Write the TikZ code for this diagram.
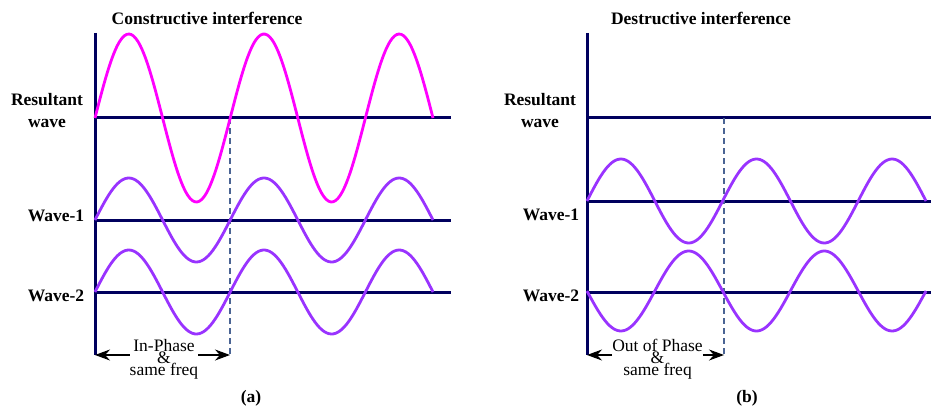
\documentclass[tikz,border=0pt]{standalone}
\usepackage{fontspec}
\setmainfont{Liberation Serif}
\usetikzlibrary{arrows.meta}
\definecolor{axisblue}{HTML}{00005E}
\definecolor{resmag}{HTML}{FF00FF}
\definecolor{wavepurple}{HTML}{9933FF}
\definecolor{guidegray}{HTML}{4A6494}
\setlength{\lineskiplimit}{-20pt}

\begin{document}
\begin{tikzpicture}[x=1pt, y=-1pt, every node/.style={inner sep=0pt},
  axis/.style={draw=axisblue, line width=3pt},
  res/.style={draw=resmag, line width=2.8pt},
  wv/.style={draw=wavepurple, line width=2.8pt},
  guide/.style={draw=guidegray, line width=1.1pt, dash pattern=on 6pt off 4pt},
  lbl/.style={font=\fontsize{17.5}{22}\selectfont\bfseries, align=center},
  note/.style={align=center, font=\fontsize{17.5}{12}\selectfont},
  arr/.style={-{Stealth[length=15pt, width=11pt]}, line width=1.2pt}]
\useasboundingbox (0,0) rectangle (931,409);
% (a) constructive
\coordinate (oa) at (95,33);
\coordinate (la) at (95,355);
\coordinate (ra) at (230,355);
\draw[axis] (oa) -- (la);
\draw[axis] (95,118) -- (451,118);
\draw[axis] (95,220) -- (451,220);
\draw[axis] (95,292) -- (451,292);
\draw[guide] (230,118) -- (ra);
\draw[res] plot[domain=0:338, samples=150, smooth] ({95+\x}, {118-84*sin(\x/135.2*360)});
\draw[wv] plot[domain=0:338, samples=150, smooth] ({95+\x}, {220-42*sin(\x/135.2*360)});
\draw[wv] plot[domain=0:338, samples=150, smooth] ({95+\x}, {292-42*sin(\x/135.2*360)});
\node[lbl] (tta) at (207,18.5) {Constructive interference};
\node[lbl] (resa) at (47,111) {Resultant\\wave};
\node[lbl] (w1a) at (56,216) {Wave-1};
\node[lbl] (w2a) at (56,296) {Wave-2};
\node[note] (nta) at (164,359) {In-Phase\\\&\\same freq};
\draw[arr] (nta.west |- la) -- (la);
\draw[arr] (nta.east |- ra) -- (ra);
\node[lbl] (capa) at (251,398) {(a)};
% (b) destructive
\coordinate (ob) at (587,33);
\coordinate (lb) at (587,355);
\coordinate (rb) at (724,355);
\draw[axis] (ob) -- (lb);
\draw[axis] (587,118) -- (931,118);
\draw[axis] (587,201) -- (931,201);
\draw[axis] (587,292) -- (931,292);
\draw[guide] (724,118) -- (rb);
\draw[wv] plot[domain=0:339, samples=150, smooth] ({587+\x}, {201-42*sin(\x/135.6*360)});
\draw[wv] plot[domain=0:339, samples=150, smooth] ({587+\x}, {291+40*sin(\x/135.6*360)});
\node[lbl] (ttb) at (701,18.5) {Destructive interference};
\node[lbl] (resb) at (540,111) {Resultant\\wave};
\node[lbl] (w1b) at (551,215) {Wave-1};
\node[lbl] (w2b) at (551,295.5) {Wave-2};
\node[note] (ntb) at (657.5,359) {Out of Phase\\\&\\same freq};
\draw[arr] (ntb.west |- lb) -- (lb);
\draw[arr] (ntb.east |- rb) -- (rb);
\node[lbl] (capb) at (747,398) {(b)};
\end{tikzpicture}
\end{document}
